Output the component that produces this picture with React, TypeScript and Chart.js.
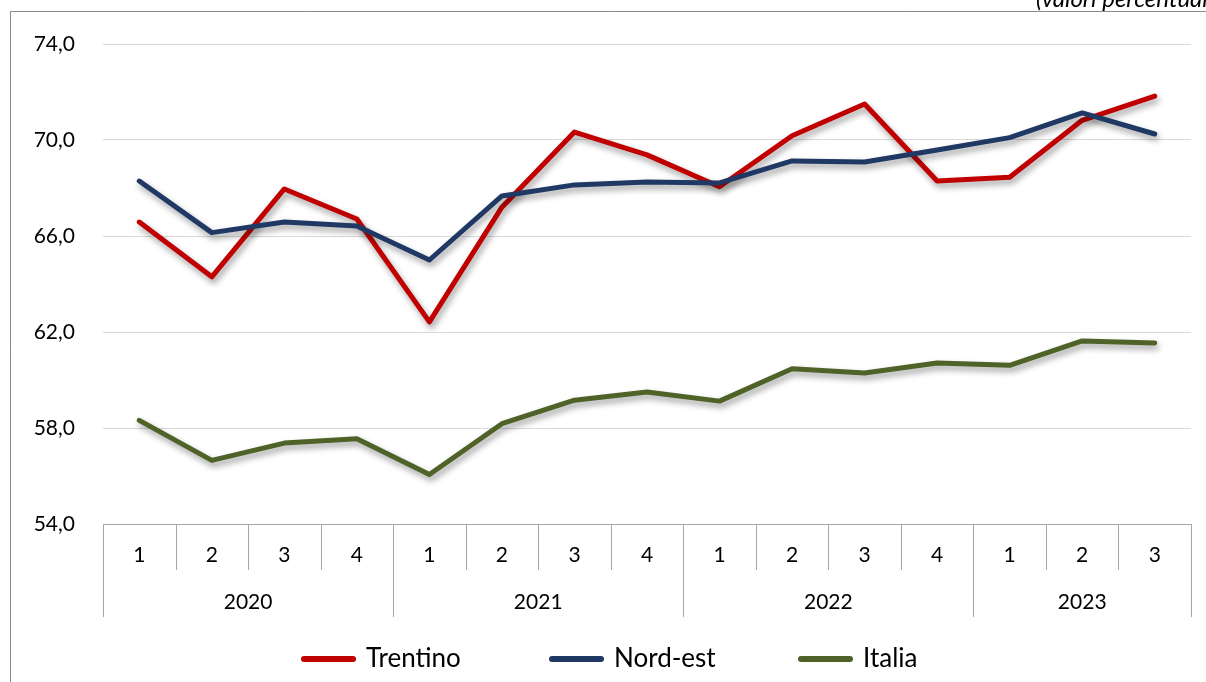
import React, { useEffect, useRef } from "react";
import { Chart, registerables } from "chart.js";

Chart.register(...registerables);

const quarters = ["1", "2", "3", "4", "1", "2", "3", "4", "1", "2", "3", "4", "1", "2", "3"];
const years = ["2020", "2021", "2022", "2023"];
const quartersPerYear = [4, 4, 4, 3];

const trentino = [66.58, 64.3, 67.96, 66.71, 62.42, 67.2, 70.33, 69.38, 68.05, 70.18, 71.5, 68.29, 68.45, 70.82, 71.83];
const nordEst = [68.29, 66.14, 66.58, 66.42, 65.0, 67.67, 68.13, 68.25, 68.21, 69.13, 69.08, 69.58, 70.1, 71.13, 70.25];
const italia = [58.32, 56.65, 57.37, 57.55, 56.06, 58.18, 59.16, 59.5, 59.12, 60.47, 60.29, 60.71, 60.61, 61.63, 61.54];

const yTicks = [54, 58, 62, 66, 70, 74];
const subtitle = "(valori percentuali)";

const COLORS = { trentino: "#C00000", nordEst: "#1F3864", italia: "#4F6228" };
const FONT = "Lato, 'Open Sans', sans-serif";

const decorPlugin = {
  id: "decor",
  beforeDraw(chart: any) {
    const ctx = chart.ctx;
    ctx.save();
    ctx.fillStyle = "#ffffff";
    ctx.fillRect(0, 0, chart.width, chart.height);
    // frame
    ctx.strokeStyle = "#8c8c8c";
    ctx.lineWidth = 1;
    ctx.beginPath();
    ctx.moveTo(10.5, chart.height);
    ctx.lineTo(10.5, 11.5);
    ctx.lineTo(chart.width, 11.5);
    ctx.stroke();
    // subtitle
    ctx.fillStyle = "#000000";
    ctx.font = `italic 24px ${FONT}`;
    ctx.textAlign = "left";
    ctx.textBaseline = "alphabetic";
    ctx.fillText(subtitle, 1036, 7);
    ctx.restore();
  },
  beforeDatasetsDraw(chart: any) {
    const ctx = chart.ctx;
    ctx.save();
    ctx.shadowColor = "rgba(0,0,0,0.38)";
    ctx.shadowBlur = 6;
    ctx.shadowOffsetX = 2;
    ctx.shadowOffsetY = 4;
  },
  afterDatasetsDraw(chart: any) {
    chart.ctx.restore();
  },
  afterDraw(chart: any) {
    const ctx = chart.ctx;
    const xs = chart.scales.x;
    const area = chart.chartArea;
    const n = quarters.length;
    const bounds: number[] = [];
    for (let i = 0; i <= n; i++) {
      if (i === 0) bounds.push(area.left);
      else if (i === n) bounds.push(area.right);
      else bounds.push((xs.getPixelForValue(i - 1) + xs.getPixelForValue(i)) / 2);
    }
    const axisY = area.bottom;
    ctx.save();
    ctx.strokeStyle = "#a6a6a6";
    ctx.lineWidth = 1;
    // axis line
    ctx.beginPath();
    ctx.moveTo(area.left, axisY + 0.5);
    ctx.lineTo(area.right, axisY + 0.5);
    ctx.stroke();
    // tick lines
    const yearStarts = new Set<number>();
    let acc = 0;
    yearStarts.add(0);
    quartersPerYear.forEach((c) => {
      acc += c;
      yearStarts.add(acc);
    });
    for (let i = 0; i <= n; i++) {
      const x = Math.round(bounds[i]) + 0.5;
      ctx.beginPath();
      ctx.moveTo(x, axisY);
      ctx.lineTo(x, yearStarts.has(i) ? axisY + 93 : axisY + 46);
      ctx.stroke();
    }
    // quarter labels
    ctx.fillStyle = "#000000";
    ctx.font = `21px ${FONT}`;
    ctx.textAlign = "center";
    ctx.textBaseline = "middle";
    for (let i = 0; i < n; i++) {
      ctx.fillText(quarters[i], xs.getPixelForValue(i), axisY + 31);
    }
    // year labels
    let start = 0;
    years.forEach((y, k) => {
      const end = start + quartersPerYear[k];
      const cx = (bounds[start] + bounds[end]) / 2;
      ctx.fillText(y, cx, axisY + 78);
      start = end;
    });
    // legend
    const items = [
      { label: "Trentino", color: COLORS.trentino, x: 301 },
      { label: "Nord-est", color: COLORS.nordEst, x: 549 },
      { label: "Italia", color: COLORS.italia, x: 798 },
    ];
    const ly = 659;
    ctx.font = `26px ${FONT}`;
    ctx.textAlign = "left";
    items.forEach((it) => {
      ctx.strokeStyle = it.color;
      ctx.lineWidth = 6;
      ctx.lineCap = "round";
      ctx.beginPath();
      ctx.moveTo(it.x + 3, ly);
      ctx.lineTo(it.x + 52, ly);
      ctx.stroke();
      ctx.fillStyle = "#000000";
      ctx.fillText(it.label, it.x + 65, ly);
    });
    ctx.restore();
  },
};

export default function App() {
  const ref = useRef<HTMLCanvasElement | null>(null);
  useEffect(() => {
    if (!ref.current) return;
    const mk = (label: string, data: number[], color: string) => ({
      label,
      data,
      borderColor: color,
      backgroundColor: color,
      borderWidth: 5,
      pointRadius: 0,
      pointHoverRadius: 0,
      tension: 0,
      borderCapStyle: "round" as const,
      borderJoinStyle: "round" as const,
      fill: false,
    });
    const chart = new Chart(ref.current, {
      type: "line",
      data: {
        labels: quarters.map((q, i) => `${q}-${i}`),
        datasets: [
          mk("Italia", italia, COLORS.italia),
          mk("Nord-est", nordEst, COLORS.nordEst),
          mk("Trentino", trentino, COLORS.trentino),
        ],
      },
      options: {
        animation: false,
        responsive: false,
        maintainAspectRatio: false,
        devicePixelRatio: 1,
        layout: { padding: { top: 44, right: 15, left: 0, bottom: 0 } },
        plugins: { legend: { display: false }, tooltip: { enabled: false }, title: { display: false } },
        scales: {
          x: {
            type: "category",
            offset: true,
            grid: { display: false, drawTicks: false },
            border: { display: false },
            ticks: { display: false },
            afterFit(scale: any) {
              scale.height = 158;
            },
          },
          y: {
            min: 54,
            max: 74,
            afterBuildTicks(scale: any) {
              scale.ticks = yTicks.map((v) => ({ value: v }));
            },
            grid: { color: "#d9d9d9", lineWidth: 1, drawTicks: false },
            border: { display: false },
            ticks: {
              color: "#000000",
              font: { family: FONT, size: 21 },
              padding: 28,
              callback: (v: any) => Number(v).toFixed(1).replace(".", ","),
            },
            afterFit(scale: any) {
              scale.width = 103;
            },
          },
        },
      },
      plugins: [decorPlugin],
    });
    return () => chart.destroy();
  }, []);
  return (
    <div style={{ position: "fixed", left: 0, top: 0, width: 1206, height: 682, background: "#fff" }}>
      <canvas ref={ref} width={1206} height={682} style={{ width: 1206, height: 682, display: "block" }} />
    </div>
  );
}
